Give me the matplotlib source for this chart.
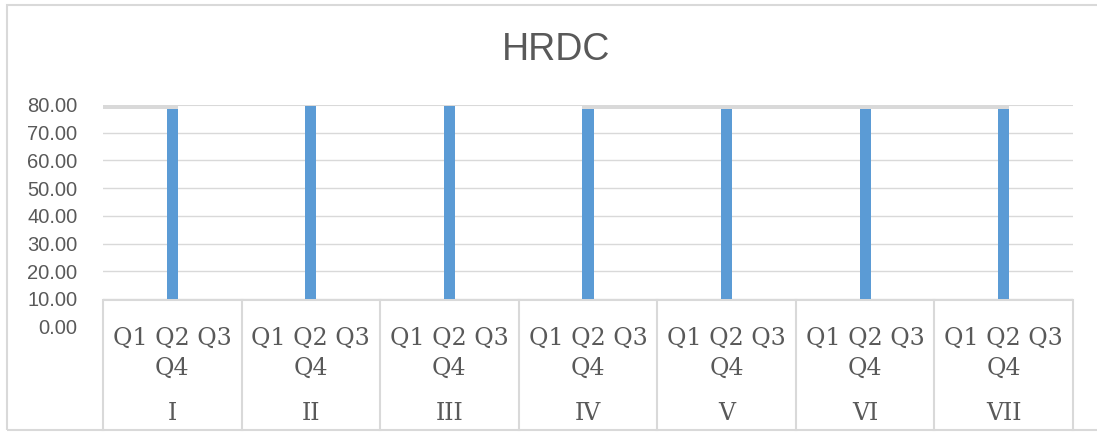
import matplotlib
matplotlib.use("Agg")
import matplotlib.pyplot as plt
from matplotlib.patches import Rectangle
import numpy as np

# data
groups = ["I", "II", "III", "IV", "V", "VI", "VII"]
quarter_label = "Q1 Q2 Q3\nQ4"
hrdc = [78.6, 79.6, 79.6, 78.6, 78.6, 78.6, 78.6]
y_ticks = [0, 10, 20, 30, 40, 50, 60, 70, 80]

grid_c = "#d9d9d9"
text_c = "#595959"
bar_c = "#5b9bd5"

W, H = 1097, 432
fig = plt.figure(figsize=(W / 100, H / 100), dpi=100)
fig.patch.set_facecolor("white")

def fx(px):
    return px / W

def fy(py):
    return 1 - py / H

# outer chart border (right side runs off the canvas)
fig.add_artist(Rectangle((fx(7), fy(430)), fx(1110) - fx(7), fy(5) - fy(430),
                         transform=fig.transFigure, fill=False,
                         edgecolor=grid_c, lw=1.5))

ax = fig.add_axes([fx(103), fy(326.7), fx(1073) - fx(103), fy(105) - fy(326.7)])
x = np.arange(len(groups))
bw = 0.08
ax.bar(x, hrdc, width=bw, color=bar_c, zorder=3)

# thick grey strip along the 80 line
top = 80.3
ax.fill_between([-0.5, 0 + bw / 2], [hrdc[0]] * 2, [top] * 2,
                color=grid_c, lw=0, zorder=2)
ax.fill_between([3 - bw / 2, 6 + bw / 2], [hrdc[3]] * 2, [top] * 2,
                color=grid_c, lw=0, zorder=2)

for v in y_ticks[1:]:
    ax.axhline(v, color=grid_c, lw=1.5 if v == 80 else 1.0, zorder=1)

ax.set_xlim(-0.5, len(groups) - 0.5)
ax.set_ylim(0, 80)
ax.set_yticks(y_ticks)
ax.set_yticklabels(["%.2f" % v for v in y_ticks], fontsize=14.5,
                   color=text_c, family="Liberation Sans")
ax.tick_params(axis="y", length=0, pad=18.5)
ax.set_xticks([])
for s in ax.spines.values():
    s.set_visible(False)

# category label table, white so it covers the bar bottoms
tab = fig.add_axes([fx(103), fy(430), fx(1073) - fx(103), fy(299) - fy(430)])
tab.set_xlim(-0.5, len(groups) - 0.5)
tab.set_ylim(430, 299)
tab.axis("off")
tab.add_patch(Rectangle((-0.5, 299), len(groups), 131, facecolor="white",
                        edgecolor="none", zorder=0))
tab.axhline(300, color=grid_c, lw=1.5)
for b in np.arange(len(groups) + 1) - 0.5:
    tab.plot([b, b], [300, 430], color=grid_c, lw=1.5, clip_on=False)
for i, g in enumerate(groups):
    tab.text(i, 353, quarter_label, ha="center", va="center", fontsize=17,
             color=text_c, family="DejaVu Serif", linespacing=1.4)
    tab.text(i, 413, g, ha="center", va="center", fontsize=17,
             color=text_c, family="DejaVu Serif")

fig.text(fx(556), fy(50), "HRDC", ha="center", va="center", fontsize=27,
         color=text_c, family="Liberation Sans")

fig.savefig("out.png", dpi=100)
